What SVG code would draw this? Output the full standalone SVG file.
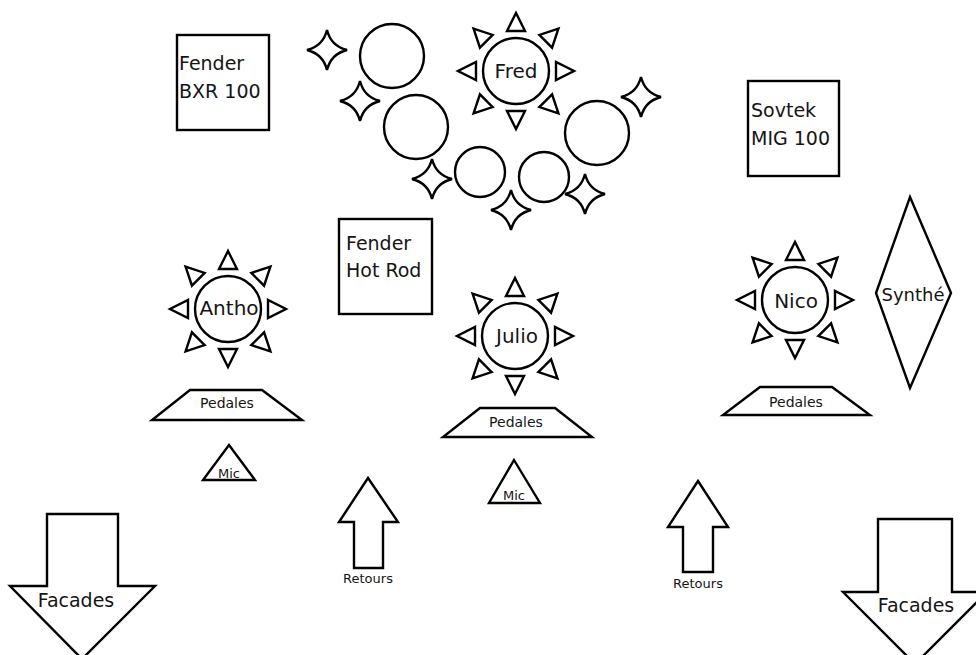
<svg xmlns="http://www.w3.org/2000/svg" xmlns:xlink="http://www.w3.org/1999/xlink" width="976" height="655" viewBox="0 0 976 655">
<style>
.sh{fill:#fff;stroke:#000;stroke-width:2.4;stroke-linejoin:miter}
.t{font-family:"DejaVu Sans","Liberation Sans",sans-serif;fill:#151515}
.n{font-size:20px;text-anchor:middle}
.a{font-size:19px}
.p{font-size:14px;text-anchor:middle}
.m{font-size:13px;text-anchor:middle}
</style>
<defs>
<g id="sun">
<circle class="sh" r="33"/>
<polygon class="sh" points="40,-9 40,9 58,0"/>
<polygon class="sh" points="42,-9 42,9 60,0" transform="rotate(45)"/>
<polygon class="sh" points="40,-9 40,9 58,0" transform="rotate(90)"/>
<polygon class="sh" points="42,-9 42,9 60,0" transform="rotate(135)"/>
<polygon class="sh" points="40,-9 40,9 58,0" transform="rotate(180)"/>
<polygon class="sh" points="42,-9 42,9 60,0" transform="rotate(225)"/>
<polygon class="sh" points="40,-9 40,9 58,0" transform="rotate(270)"/>
<polygon class="sh" points="42,-9 42,9 60,0" transform="rotate(315)"/>
</g>
<path id="star" class="sh" d="M0,-20 Q4,-4 20,0 Q4,4 0,20 Q-4,4 -20,0 Q-4,-4 0,-20 Z"/>
</defs>

<g id="drums">
<circle class="sh" cx="392" cy="56" r="32"/>
<circle class="sh" cx="416" cy="127" r="32"/>
<circle class="sh" cx="480" cy="172" r="25"/>
<circle class="sh" cx="544" cy="177" r="25"/>
<circle class="sh" cx="597" cy="133" r="32"/>
<use xlink:href="#star" x="327" y="50"/>
<use xlink:href="#star" x="360" y="101"/>
<use xlink:href="#star" x="432" y="179"/>
<use xlink:href="#star" x="511" y="210"/>
<use xlink:href="#star" x="585" y="194"/>
<use xlink:href="#star" x="641" y="97"/>
</g>

<g id="fred">
<use xlink:href="#sun" x="516" y="71"/>
<text class="t n" x="516" y="78">Fred</text>
</g>
<g id="antho">
<use xlink:href="#sun" x="228" y="309"/>
<text class="t n" x="229" y="315">Antho</text>
</g>
<g id="julio">
<use xlink:href="#sun" x="515" y="336"/>
<text class="t n" x="517" y="343">Julio</text>
</g>
<g id="nico">
<use xlink:href="#sun" x="795" y="300"/>
<text class="t n" x="796" y="308">Nico</text>
</g>

<g id="fender-bxr">
<rect class="sh" x="177" y="35" width="92" height="95"/>
<text class="t a" x="179" y="70">Fender</text>
<text class="t a" x="179" y="98">BXR 100</text>
</g>
<g id="fender-hotrod">
<rect class="sh" x="339" y="219" width="93" height="95"/>
<text class="t a" x="346" y="250">Fender</text>
<text class="t a" x="346" y="277">Hot Rod</text>
</g>
<g id="sovtek">
<rect class="sh" x="748" y="81" width="91" height="95"/>
<text class="t a" x="751" y="117">Sovtek</text>
<text class="t a" x="751" y="145">MIG 100</text>
</g>
<g id="synthe">
<polygon class="sh" points="910,197 951,293 910,388 876,293"/>
<text class="t" x="913" y="301" font-size="18" text-anchor="middle">Synthé</text>
</g>

<g id="pedales-antho">
<polygon class="sh" points="190,390 262,390 302,420 152,420"/>
<text class="t p" x="227" y="408">Pedales</text>
</g>
<g id="pedales-julio">
<polygon class="sh" points="480,408 555,408 592,437 443,437"/>
<text class="t p" x="516" y="427">Pedales</text>
</g>
<g id="pedales-nico">
<polygon class="sh" points="760,387 832,387 870,415 723,415"/>
<text class="t p" x="796" y="407">Pedales</text>
</g>

<g id="mic-antho">
<polygon class="sh" points="229,445 255,480 203,480"/>
<text class="t m" x="229" y="478">Mic</text>
</g>
<g id="mic-julio">
<polygon class="sh" points="514,460 540,503 489,503"/>
<text class="t m" x="514" y="500">Mic</text>
</g>

<g id="retours-left">
<polygon class="sh" points="368,478 398,522 383,522 383,568 354,568 354,522 339,522"/>
<text class="t m" x="368" y="583">Retours</text>
</g>
<g id="retours-right">
<polygon class="sh" points="698,481 728,527 713,527 713,572 683,572 683,527 668,527"/>
<text class="t m" x="698" y="588">Retours</text>
</g>

<g id="facades-left">
<polygon class="sh" points="47,514 118,514 118,586 155,586 82,659 10,586 47,586"/>
<text class="t" x="76" y="607" font-size="19" text-anchor="middle">Facades</text>
</g>
<g id="facades-right">
<polygon class="sh" points="878,519 952,519 952,592 987,592 915,664 843,592 878,592"/>
<text class="t" x="916" y="612" font-size="19" text-anchor="middle">Facades</text>
</g>
</svg>
